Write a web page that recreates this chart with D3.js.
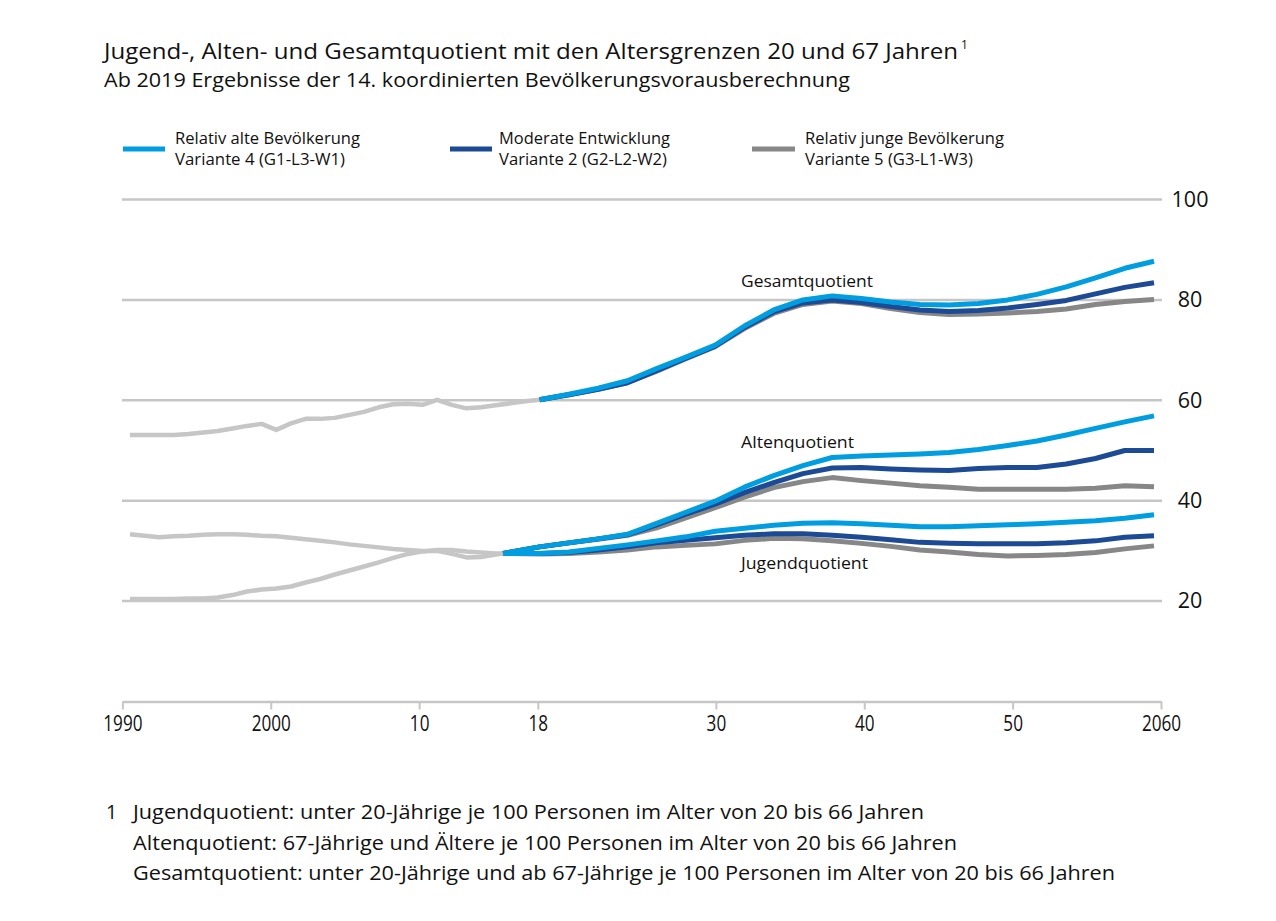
<!DOCTYPE html>
<html><head><meta charset="utf-8">
<script src="https://cdn.jsdelivr.net/npm/d3@7"></script>
<style>
body{margin:0;background:#fff;}
text{font-family:"Open Sans","Noto Sans",sans-serif;fill:#111;}
</style></head>
<body><svg id="c" width="1276" height="921"></svg>
<script>
// ---------- DATA ----------
const histYearsG = [1990,1991,1992,1993,1994,1995,1996,1997,1998,1999,2000,2001,2002,2003,2004,2005,2006,2007,2008,2009,2010,2011,2012,2013,2014,2015,2016,2017,2018];
const histGesamt = [53.1,53.1,53.1,53.1,53.3,53.6,53.9,54.4,54.9,55.3,54.1,55.4,56.3,56.3,56.5,57.1,57.7,58.6,59.2,59.3,59.1,60.1,59.1,58.4,58.6,59.0,59.4,59.8,60.1];
const histYearsAJ = [1990,1991,1992,1993,1994,1995,1996,1997,1998,1999,2000,2001,2002,2003,2004,2005,2006,2007,2008,2009,2010,2011,2012,2013,2014,2015,2015.5];
const histAlten = [20.4,20.4,20.4,20.4,20.5,20.5,20.7,21.2,21.9,22.3,22.5,22.9,23.7,24.4,25.3,26.1,26.9,27.7,28.6,29.4,29.9,30.2,30.2,29.9,29.7,29.5,29.5];
const histJugend = [33.3,33.0,32.7,32.9,33.0,33.2,33.3,33.3,33.2,33.0,32.9,32.6,32.3,32.0,31.7,31.3,31.0,30.7,30.4,30.2,30.0,30.0,29.4,28.7,28.8,29.3,29.5];

const projYearsG = [2018,2020,2022,2024,2026,2028,2030,2032,2034,2036,2038,2040,2042,2044,2046,2048,2050,2052,2054,2056,2058,2060];
const gesamtV4 = [60.1,61.2,62.4,63.9,66.3,68.6,71.0,74.8,78.0,80.0,80.8,80.3,79.6,79.1,79.0,79.3,80.0,81.1,82.6,84.4,86.3,87.7];
const gesamtV2 = [60.1,61.1,62.2,63.5,65.9,68.4,70.8,74.5,77.6,79.4,80.0,79.5,78.7,78.0,77.7,77.9,78.4,79.1,79.9,81.2,82.5,83.4];
const gesamtV5 = [60.1,61.1,62.2,63.5,65.8,68.3,70.7,74.3,77.3,79.1,79.8,79.3,78.3,77.5,77.1,77.2,77.4,77.7,78.2,79.1,79.7,80.1];

const projYearsAJ = [2015.5,2018,2020,2022,2024,2026,2028,2030,2032,2034,2036,2038,2040,2042,2044,2046,2048,2050,2052,2054,2056,2058,2060];
const altenV4 = [29.5,30.8,31.6,32.4,33.3,35.5,37.7,39.9,42.7,45.0,47.0,48.6,48.9,49.1,49.3,49.6,50.2,51.0,51.9,53.1,54.4,55.7,56.9];
const altenV2 = [29.5,30.8,31.6,32.4,33.2,35.2,37.3,39.3,41.6,43.6,45.4,46.5,46.6,46.3,46.1,46.0,46.4,46.6,46.6,47.3,48.4,50.0,50.0];
const altenV5 = [29.5,30.8,31.6,32.3,33.1,34.6,36.6,38.6,40.7,42.6,43.8,44.6,44.0,43.5,43.0,42.7,42.3,42.3,42.3,42.3,42.5,43.0,42.8];
const jugendV4 = [29.5,29.5,29.8,30.5,31.2,32.0,32.8,33.9,34.5,35.1,35.5,35.6,35.4,35.1,34.8,34.8,35.0,35.2,35.4,35.7,36.0,36.5,37.2];
const jugendV2 = [29.5,29.5,29.7,30.2,30.8,31.6,32.1,32.6,33.1,33.4,33.4,33.1,32.7,32.2,31.7,31.5,31.4,31.4,31.4,31.6,32.0,32.7,33.0];
const jugendV5 = [29.5,29.4,29.5,29.8,30.2,30.8,31.1,31.4,32.1,32.5,32.4,32.0,31.5,30.9,30.2,29.8,29.3,29.0,29.1,29.3,29.7,30.4,31.0];

const xTickValues = [1990,2000,2010,2018,2030,2040,2050,2060];
const xTickLabels = ["1990","2000","10","18","30","40","50","2060"];
const yTickValues = [20,40,60,80,100];

const legendNames = [["Relativ alte Bevölkerung","Variante 4 (G1-L3-W1)"],["Moderate Entwicklung","Variante 2 (G2-L2-W2)"],["Relativ junge Bevölkerung","Variante 5 (G3-L1-W3)"]];
const seriesLabels = ["Gesamtquotient","Altenquotient","Jugendquotient"];
const title = "Jugend-, Alten- und Gesamtquotient mit den Altersgrenzen 20 und 67 Jahren";
const subtitle = "Ab 2019 Ergebnisse der 14. koordinierten Bevölkerungsvorausberechnung";
const footnotes = ["Jugendquotient: unter 20-Jährige je 100 Personen im Alter von 20 bis 66 Jahren",
  "Altenquotient: 67-Jährige und Ältere je 100 Personen im Alter von 20 bis 66 Jahren",
  "Gesamtquotient: unter 20-Jährige und ab 67-Jährige je 100 Personen im Alter von 20 bis 66 Jahren"];

// ---------- STYLE ----------
const C_HIST = "#c6c6c6", C_V4 = "#009de0", C_V2 = "#1c4a94", C_V5 = "#878787", C_GRID = "#c6c6c6";
const colors = [C_V4, C_V2, C_V5];

const svg = d3.select("#c");
const xTick = d3.scaleLinear().domain([1990,2060]).range([122.4,1161]);
const xData = d3.scaleLinear().domain([1990,2060]).range([130,1154]);
const y = d3.scaleLinear().domain([0,100]).range([701.5,199.5]);

function fitText(sel, w){ sel.attr("textLength", w).attr("lengthAdjust","spacingAndGlyphs"); return sel; }

// title
const t = svg.append("text").attr("x",104).attr("y",59).attr("font-size",21.5);
fitText(t.append("tspan").text(title), 854);
svg.append("text").attr("x",961).attr("y",49).attr("font-size",12).text("1");
fitText(svg.append("text").attr("x",104).attr("y",87).attr("font-size",19.5).text(subtitle), 746);

// legend
const legX = [[123,165,175],[450,492,499],[752,795,805]];
const legW = [[185,170],[171,168],[199,168]];
legendNames.forEach((n,i)=>{
  svg.append("line").attr("x1",legX[i][0]).attr("x2",legX[i][1]).attr("y1",149).attr("y2",149)
    .attr("stroke",colors[i]).attr("stroke-width",5);
  fitText(svg.append("text").attr("x",legX[i][2]).attr("y",144).attr("font-size",15.5).text(n[0]), legW[i][0]);
  fitText(svg.append("text").attr("x",legX[i][2]).attr("y",165).attr("font-size",15.5).text(n[1]), legW[i][1]);
});

// grid
svg.append("g").selectAll("line").data(yTickValues).join("line")
  .attr("x1",122).attr("x2",1162).attr("y1",d=>y(d)).attr("y2",d=>y(d))
  .attr("stroke",C_GRID).attr("stroke-width",2.5);

// y labels
const yAx = svg.append("g").attr("transform","translate(1190,0)")
  .call(d3.axisRight(y).tickValues(yTickValues).tickSize(0).tickPadding(0));
yAx.select(".domain").remove();
yAx.selectAll("text").attr("text-anchor","middle").attr("font-size",21.5)
  .attr("font-family","Open Sans, sans-serif").attr("fill","#111");

// x axis
const xAx = svg.append("g").attr("transform",`translate(0,${y(0)})`)
  .call(d3.axisBottom(xTick).tickValues(xTickValues).tickFormat((d,i)=>xTickLabels[i]).tickSize(8).tickSizeOuter(0).tickPadding(6));
xAx.select(".domain").attr("stroke",C_GRID).attr("stroke-width",2.5);
xAx.selectAll(".tick line").attr("stroke",C_GRID).attr("stroke-width",2);
xAx.selectAll("text").attr("font-size",22.5).attr("font-family","Open Sans, sans-serif").attr("fill","#111")
  .each(function(d,i){ d3.select(this).attr("textLength", xTickLabels[i].length*9.8).attr("lengthAdjust","spacingAndGlyphs"); });

// lines
const line = d3.line().x(d=>xData(d[0])).y(d=>y(d[1]));
function draw(years, vals, color, w){
  svg.append("path").datum(years.map((yr,i)=>[yr,vals[i]]))
    .attr("d",line).attr("fill","none").attr("stroke",color).attr("stroke-width",w)
    .attr("stroke-linejoin","round").attr("stroke-linecap","butt");
}
draw(histYearsG, histGesamt, C_HIST, 4.5);
draw(histYearsAJ, histAlten, C_HIST, 4.5);
draw(histYearsAJ, histJugend, C_HIST, 4.5);
[[gesamtV5,altenV5,jugendV5,C_V5],[gesamtV2,altenV2,jugendV2,C_V2],[gesamtV4,altenV4,jugendV4,C_V4]].forEach(s=>{
  draw(projYearsG, s[0], s[3], 5);
  draw(projYearsAJ, s[1], s[3], 5);
  draw(projYearsAJ, s[2], s[3], 5);
});

// series labels
const labPos = [[287,132],[448,113],[569,127]];
seriesLabels.forEach((s,i)=>{
  fitText(svg.append("text").attr("x",741).attr("y",labPos[i][0]).attr("font-size",16.5).text(s), labPos[i][1]);
});

// footnote
svg.append("text").attr("x",106).attr("y",819).attr("font-size",19.5).text("1");
const fw = [791,824,982];
footnotes.forEach((f,i)=>{
  fitText(svg.append("text").attr("x",133).attr("y",819+i*30.5).attr("font-size",19.5).text(f), fw[i]);
});
</script></body></html>
